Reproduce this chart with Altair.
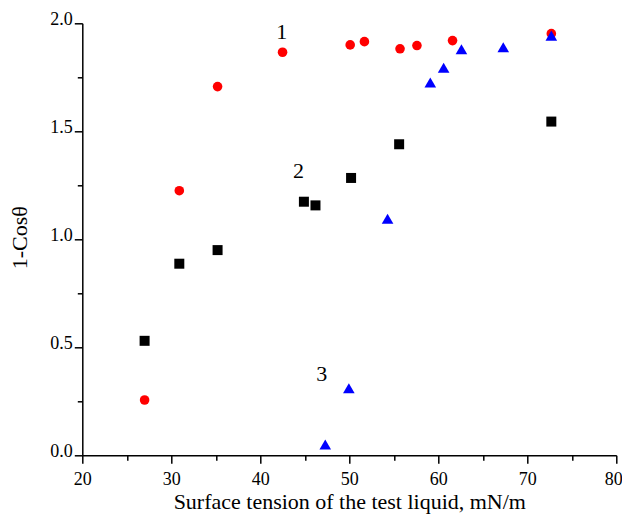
import altair as alt
import pandas as pd

# Series 1 (red circles)
x1 = [27.0, 30.9, 35.2, 42.5, 50.1, 51.7, 55.7, 57.6, 61.6, 72.7]
y1 = [0.256, 1.225, 1.707, 1.866, 1.90, 1.915, 1.882, 1.897, 1.92, 1.952]
# Series 2 (black squares)
x2 = [27.0, 30.9, 35.2, 44.9, 46.2, 50.2, 55.6, 72.7]
y2 = [0.53, 0.887, 0.95, 1.174, 1.157, 1.284, 1.44, 1.545]
# Series 3 (blue triangles)
x3 = [47.3, 49.95, 54.3, 59.1, 60.6, 62.6, 67.3, 72.7]
y3 = [0.05, 0.31, 1.095, 1.726, 1.794, 1.88, 1.889, 1.943]
# Curve labels
lab_text = ["1", "2", "3"]
lab_x = [42.4, 44.3, 46.9]
lab_y = [1.927, 1.284, 0.344]

x_ticks = [20 + 5 * i for i in range(13)]
y_ticks = [0.25 * i for i in range(9)]

FONT = "Liberation Serif"

x_scale = alt.Scale(domain=[20, 80], nice=False, zero=False)
y_scale = alt.Scale(domain=[0, 2], nice=False, zero=False)

x_axis = alt.Axis(
    title="Surface tension of the test liquid, mN/m",
    values=x_ticks,
    grid=False,
    domainColor="black", domainWidth=1.5,
    tickColor="black", tickWidth=1.5,
    tickSize={"condition": {"test": "datum.value % 10 != 0", "value": 5}, "value": 8},
    labelExpr="datum.value % 10 == 0 ? format(datum.value, 'd') : ''",
    labelOffset={"condition": {"test": "datum.value == 80", "value": -3}, "value": 0},
    labelFont=FONT, labelFontSize=18, labelColor="black",
    labelBaseline="alphabetic", labelPadding=21, labelFlush=False, labelOverlap=False,
    titleFont=FONT, titleFontSize=22, titleFontWeight="normal", titleColor="black",
    titleBaseline="alphabetic", titleX=267, titleY=53, titleAlign="center",
)
y_axis = alt.Axis(
    title="1-Cosθ",
    values=y_ticks,
    grid=False,
    domainColor="black", domainWidth=1.5,
    tickColor="black", tickWidth=1.5,
    tickSize={"condition": {"test": "(datum.value * 4) % 2 == 1", "value": 5}, "value": 8},
    labelExpr="((datum.value * 4) % 2 == 1) ? '' : format(datum.value, '.1f')",
    labelFont=FONT, labelFontSize=18, labelColor="black",
    labelBaseline="alphabetic", labelOffset=1, labelPadding=2, labelFlush=False, labelOverlap=False,
    titleFont=FONT, titleFontSize=22, titleFontWeight="normal", titleColor="black",
    titleAngle=-90, titleBaseline="alphabetic", titleAlign="center",
    titleX=-55.6, titleY=214,
)

d1 = pd.DataFrame({"x": x1, "y": y1})
d2 = pd.DataFrame({"x": x2, "y": y2})
d3 = pd.DataFrame({"x": x3, "y": y3})
dl = pd.DataFrame({"x": lab_x, "y": lab_y, "t": lab_text})

base_enc = dict(
    x=alt.X("x:Q", scale=x_scale, axis=x_axis),
    y=alt.Y("y:Q", scale=y_scale, axis=y_axis),
)

l1 = alt.Chart(d1).mark_point(shape="circle", filled=True, color="#ff0000", size=92, opacity=1).encode(**base_enc)
l2 = alt.Chart(d2).mark_point(shape="square", filled=True, color="#000000", size=100, opacity=1).encode(
    x=alt.X("x:Q", scale=x_scale), y=alt.Y("y:Q", scale=y_scale))
l3 = alt.Chart(d3).mark_point(shape="triangle-up", filled=True, color="#0000ff", size=135, opacity=1).encode(
    x=alt.X("x:Q", scale=x_scale), y=alt.Y("y:Q", scale=y_scale))
lt = alt.Chart(dl).mark_text(font=FONT, fontSize=22, color="black", baseline="alphabetic", align="center").encode(
    x=alt.X("x:Q", scale=x_scale), y=alt.Y("y:Q", scale=y_scale), text="t:N")

chart = alt.layer(l1, l2, l3, lt).properties(
    width=534, height=432,
    autosize=alt.AutoSizeParams(type="none"),
    padding={"left": 74.3, "top": 15.3, "right": 5.5, "bottom": 58.5},
    background="white",
).configure_view(stroke=None)

chart.save("out.html", embed_options={"renderer": "svg", "actions": False})
